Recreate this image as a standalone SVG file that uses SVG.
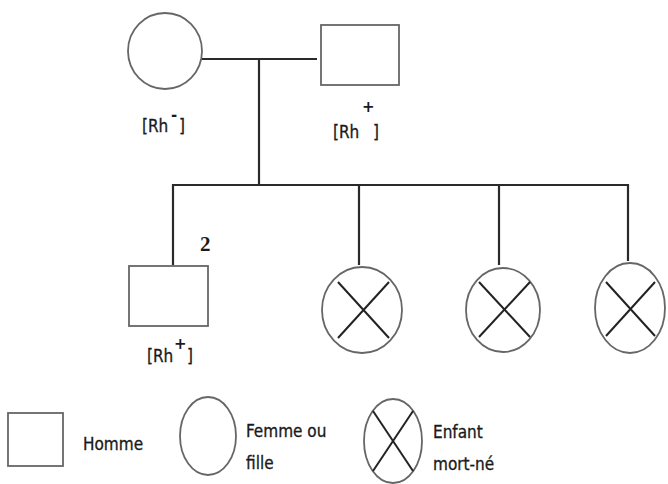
<svg xmlns="http://www.w3.org/2000/svg" width="668" height="484" viewBox="0 0 668 484">
<style>
.sym{fill:#fff;stroke:#666;stroke-width:1.8}
.ln{fill:none;stroke:#2a2a2a;stroke-width:2.2}
.x{stroke:#222;stroke-width:2}
.t{font-family:"DejaVu Sans Condensed","DejaVu Sans","Liberation Sans",sans-serif;font-size:17px;fill:#1a1a1a;stroke:#1a1a1a;stroke-width:0.3}
.s{font-family:"DejaVu Sans","Liberation Sans",sans-serif;font-size:15px;font-weight:bold;fill:#1a1a1a}
.n{font-family:"Liberation Serif",serif;font-size:21px;font-weight:bold;fill:#1a1a1a}
</style>
<rect width="668" height="484" fill="#fff"/>
<g id="connectors">
<line class="ln" x1="202" y1="59" x2="317" y2="59"/>
<line class="ln" x1="259" y1="59" x2="259" y2="185"/>
<polyline class="ln" points="173,265 173,185 628,185 628,261"/>
<line class="ln" x1="359" y1="185" x2="359" y2="265"/>
<line class="ln" x1="499" y1="185" x2="499" y2="265"/>
</g>
<g id="mother">
<ellipse class="sym" cx="165" cy="51" rx="37" ry="38"/>
<text class="t" x="142" y="132">[Rh</text><text class="s" x="171" y="120">-</text><text class="t" x="179" y="132">]</text>
</g>
<g id="father">
<rect class="sym" x="321" y="25" width="78" height="60"/>
<text class="t" x="333" y="138">[Rh</text><text class="s" x="362" y="112">+</text><text class="t" x="373" y="138">]</text>
</g>
<g id="son">
<rect class="sym" x="129" y="266" width="79" height="60"/>
<text class="n" x="200" y="251">2</text>
<text class="t" x="147" y="362">[Rh</text><text class="s" x="174" y="349">+</text><text class="t" x="187" y="362">]</text>
</g>
<g id="stillborn1">
<ellipse class="sym" cx="362" cy="310" rx="40" ry="43"/>
<line class="x" x1="338" y1="282" x2="389" y2="338"/><line class="x" x1="389" y1="282" x2="338" y2="338"/>
</g>
<g id="stillborn2">
<ellipse class="sym" cx="503" cy="310" rx="37" ry="42"/>
<line class="x" x1="479" y1="282" x2="530" y2="337"/><line class="x" x1="530" y1="282" x2="479" y2="337"/>
</g>
<g id="stillborn3">
<ellipse class="sym" cx="630" cy="308" rx="35" ry="45"/>
<line class="x" x1="606" y1="282" x2="655" y2="336"/><line class="x" x1="655" y1="282" x2="606" y2="336"/>
</g>
<g id="legend-homme">
<rect class="sym" x="8" y="413" width="55" height="53"/>
<text class="t" x="83" y="450">Homme</text>
</g>
<g id="legend-femme">
<ellipse class="sym" cx="208" cy="436" rx="28" ry="39"/>
<text class="t" x="246" y="437">Femme ou</text>
<text class="t" x="246" y="469">fille</text>
</g>
<g id="legend-mortne">
<ellipse class="sym" cx="393" cy="441" rx="29" ry="42"/>
<line class="x" x1="373" y1="411" x2="413" y2="471"/><line class="x" x1="413" y1="411" x2="373" y2="471"/>
<text class="t" x="433" y="438">Enfant</text>
<text class="t" x="433" y="470">mort-né</text>
</g>
</svg>
